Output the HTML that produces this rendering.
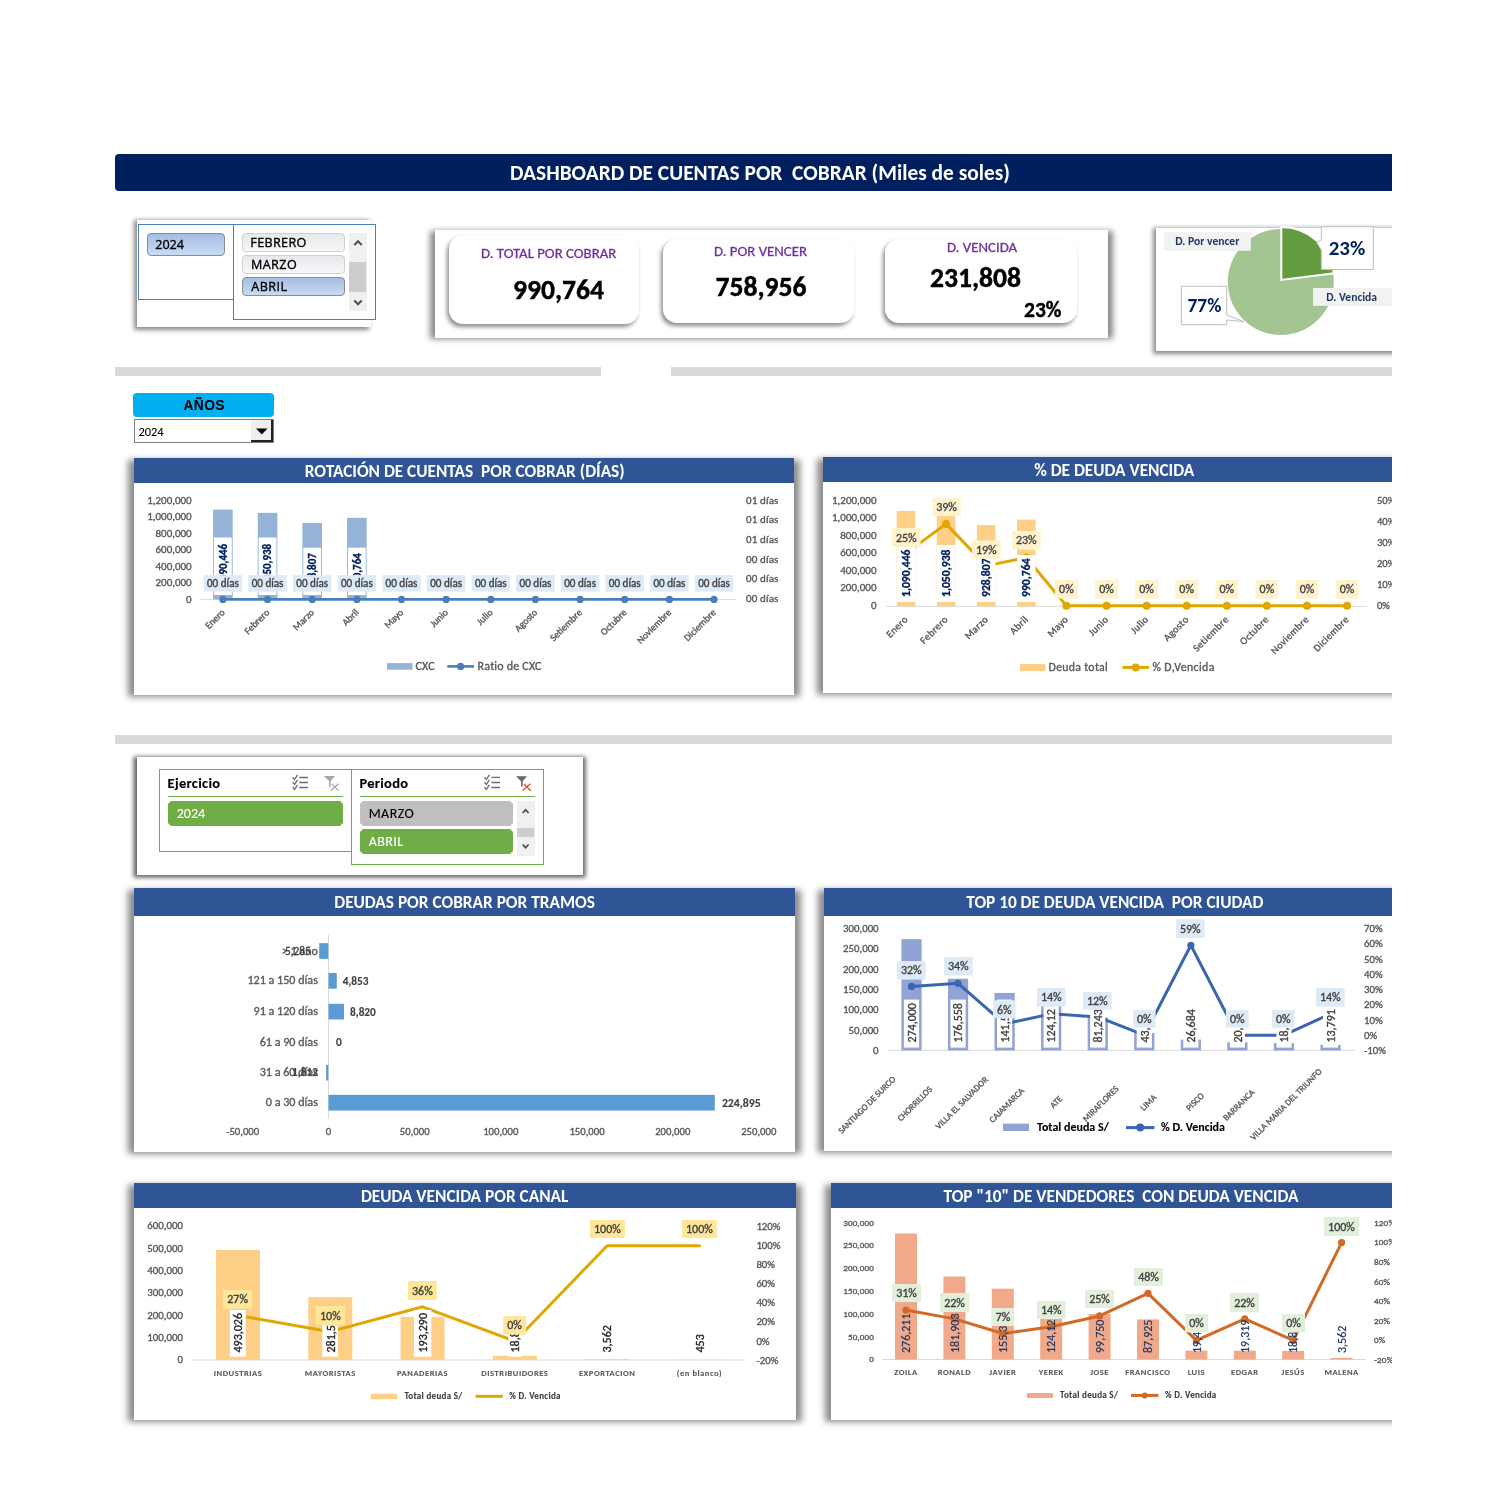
<!DOCTYPE html>
<html><head><meta charset="utf-8">
<style>
*{margin:0;padding:0;box-sizing:border-box}
html,body{width:1500px;height:1500px;background:#fff;overflow:hidden;position:relative;font-family:Carlito,"Liberation Sans",sans-serif}
.a{position:absolute}
.t{position:absolute;white-space:nowrap;line-height:1}
.title{left:115px;top:154px;width:1277px;height:37px;background:#001f5f;border-radius:4px 0 0 4px;color:#fff;font-weight:bold;font-size:21.4px;text-align:center}
.sep{background:#d9d9d9;height:9px}
.sl-btn{position:absolute;border-radius:4px;font-size:13px;padding-left:9px;line-height:18px;color:#000}
.sel{background:linear-gradient(#a4bde2,#c8dbf3);border:1px solid #8c8c8c}
.uns{background:linear-gradient(#e6e8ec,#f7f8f9);border:1px solid #d0d0d0}
.card{position:absolute;background:#fff;border-radius:14px;box-shadow:-2px 3px 4px rgba(0,0,0,.45)}
.lbl{color:#7030a0;font-size:14.8px;-webkit-text-stroke:0.3px #7030a0}
.val{color:#000;font-weight:bold;font-size:27.6px;-webkit-text-stroke:0.4px #000}
.panel{position:absolute;background:#fff}
.ph{position:absolute;left:0;top:0;right:0;height:25px;background:#2f5597;color:#fff;font-weight:bold;font-size:17px;text-align:center;line-height:25px;white-space:nowrap}
svg text{font-family:Carlito,"Liberation Sans",sans-serif}
</style></head><body><div id="clip" style="position:absolute;left:0;top:0;width:1392px;height:1500px;overflow:hidden">


<!-- Title -->
<div class="a title"><div class="t" style="left:13px;right:0;top:9px;text-align:center">DASHBOARD DE CUENTAS POR&nbsp; COBRAR (Miles de soles)</div></div>

<!-- Slicer top-left -->
<div class="a" style="left:137px;top:223px;width:229px;height:104px;box-shadow:0 0 4.6px 2.7px rgba(0,0,0,0.46)"></div><div class="a" style="left:137px;top:220px;width:234px;height:107px;background:#fff"></div>
<div class="a" style="left:138px;top:224px;width:96px;height:76px;border:1px solid #4a7ebb"></div>
<div class="a" style="left:233px;top:224px;width:143px;height:96px;border:1px solid #4a7ebb;background:#fff"></div>
<div class="sl-btn sel" style="left:147px;top:233px;width:78px;height:23px;line-height:21px"></div>
<div class="sl-btn uns" style="left:242px;top:233px;width:103px;height:19px"></div>
<div class="sl-btn uns" style="left:242px;top:255px;width:103px;height:19px"></div>
<div class="sl-btn sel" style="left:242px;top:277px;width:103px;height:19px"></div>
<div class="a" style="left:349px;top:233px;width:18px;height:78px;background:#f0f0f0"></div>
<div class="a" style="left:349px;top:262px;width:17px;height:30px;background:#cdcdcd"></div>
<svg class="a" style="left:349px;top:233px" width="18" height="78"><path d="M5.3 12 L9 8.3 L12.7 12" stroke="#505050" stroke-width="2.1" fill="none"/><path d="M5.3 67.5 L9 71.2 L12.7 67.5" stroke="#505050" stroke-width="2.1" fill="none"/></svg>

<!-- KPI container -->
<div class="a" style="left:435px;top:235.5px;width:673px;height:98px;box-shadow:0 0 6px 5px rgba(0,0,0,0.46)"></div><div class="a" style="left:435px;top:230px;width:673px;height:108px;background:#fff"></div>
<div class="card" style="left:449px;top:235px;width:190px;height:89px"></div>
<div class="card" style="left:663px;top:239px;width:191px;height:84px"></div>
<div class="card" style="left:885px;top:239px;width:192px;height:84px"></div>
<div class="t lbl" style="left:481px;top:246px">D. TOTAL POR COBRAR</div>
<div class="t val" style="left:513px;top:276px">990,764</div>
<div class="t lbl" style="left:714px;top:244px">D. POR VENCER</div>
<div class="t val" style="left:715.5px;top:272.5px">758,956</div>
<div class="t lbl" style="left:947px;top:240px">D. VENCIDA</div>
<div class="t val" style="left:930px;top:264px">231,808</div>
<div class="t val" style="left:1024px;top:299.5px;font-size:21.5px">23%</div>

<!-- Pie container -->
<div class="a" style="left:1156px;top:231px;width:245px;height:120px;box-shadow:0 0 4.6px 2.7px rgba(0,0,0,0.46)"></div><div class="a" style="left:1156px;top:228px;width:250px;height:123px;background:#fff"></div>


<!-- Pie -->
<svg class="a" style="left:1150px;top:220px;overflow:visible" width="250" height="140" viewBox="1150 220 250 140">
<circle cx="1280.8" cy="282" r="53" fill="#a3c592"/>
<path d="M1281.3,279.9 L1281.30,226.90 A53,53 0 0 1 1333.88,273.26 Z" fill="#639b3f" stroke="#fff" stroke-width="2" stroke-linejoin="miter"/>
<rect x="1164" y="232" width="86.8" height="18.8" fill="#f2f2f2"/>
<text x="1175.3" y="245.4" font-size="11.6" font-weight="bold" fill="#1f3864" font-family='Carlito,"Liberation Sans",sans-serif'>D. Por vencer</text>
<rect x="1313" y="288" width="79" height="17.8" fill="#f2f2f2"/>
<text x="1326.3" y="301" font-size="11.6" font-weight="bold" fill="#1f3864" font-family='Carlito,"Liberation Sans",sans-serif'>D. Vencida</text>
<path d="M1321.3,226.7 H1373.3 V269.5 H1321.3 V250 L1316.7,242.5 L1321.3,240 Z" fill="#fff" stroke="#bfbfbf" stroke-width="1"/>
<text x="1328.7" y="255" font-size="21" font-weight="bold" fill="#002060" font-family='Carlito,"Liberation Sans",sans-serif'>23%</text>
<path d="M1181.3,286.3 H1226.7 V315 L1244,321.7 L1226.7,320 V324.7 H1181.3 Z" fill="#fff" stroke="#bfbfbf" stroke-width="1"/>
<text x="1187.5" y="311.7" font-size="19.4" font-weight="bold" fill="#002060" font-family='Carlito,"Liberation Sans",sans-serif'>77%</text>
</svg>

<!-- separators -->
<div class="a sep" style="left:115px;top:367px;width:486px"></div>
<div class="a sep" style="left:671px;top:367px;width:721px"></div>
<div class="a sep" style="left:115px;top:735px;width:1277px"></div>

<!-- AÑOS -->
<div class="a" style="left:133px;top:393px;width:141px;height:24px;background:#00b0f0;border-radius:4px"></div>
<div class="a" style="left:134px;top:419px;width:140px;height:24px;border:1px solid #7f7f7f;background:#fff"></div>
<div class="a" style="left:251px;top:420px;width:22px;height:22px;background:#efefef;border-right:2px solid #222;border-bottom:2px solid #222"></div>
<svg class="a" style="left:251px;top:420px" width="22" height="22"><path d="M5 8.5 L16.5 8.5 L10.75 14.5 Z" fill="#000"/></svg>

<!-- Chart panels -->
<div class="a" style="left:134px;top:465.5px;width:660px;height:225.5px;box-shadow:0 0 6.6px 6.3px rgba(0,0,0,0.46)"></div><div class="panel" style="left:134px;top:458px;width:660px;height:237px"><div class="ph"></div></div>
<div class="a" style="left:823px;top:464.5px;width:600px;height:224.5px;box-shadow:0 0 6.6px 6.3px rgba(0,0,0,0.46)"></div><div class="panel" style="left:823px;top:457px;width:600px;height:236px"><div class="ph" style="width:569px;right:auto"></div></div>



<!-- Slicer 2 -->
<div class="a" style="left:137px;top:760px;width:446px;height:115px;box-shadow:0 0 4.4px 3.2px rgba(0,0,0,0.62)"></div><div class="a" style="left:137px;top:757px;width:446px;height:118px;background:#fff"></div>


<!-- Slicer 2 content -->
<div class="a" style="left:159px;top:769px;width:193px;height:83px;border:1px solid #70ad47"></div>
<div class="a" style="left:351px;top:769px;width:193px;height:96px;border:1px solid #70ad47;background:#fff"></div>
<div class="a" style="left:168px;top:796px;width:175px;height:1px;background:#70ad47"></div>
<div class="a" style="left:360px;top:796px;width:175px;height:1px;background:#70ad47"></div>
<div class="a" style="left:168px;top:801px;width:175px;height:25px;background:#70ad47;clip-path:polygon(3px 0,calc(100% - 3px) 0,100% 3px,100% calc(100% - 3px),calc(100% - 3px) 100%,3px 100%,0 calc(100% - 3px),0 3px)"></div>
<div class="a" style="left:360px;top:801px;width:153px;height:25px;background:#bfbfbf;clip-path:polygon(3px 0,calc(100% - 3px) 0,100% 3px,100% calc(100% - 3px),calc(100% - 3px) 100%,3px 100%,0 calc(100% - 3px),0 3px)"></div>
<div class="a" style="left:360px;top:829px;width:153px;height:25px;background:#70ad47;clip-path:polygon(3px 0,calc(100% - 3px) 0,100% 3px,100% calc(100% - 3px),calc(100% - 3px) 100%,3px 100%,0 calc(100% - 3px),0 3px)"></div>
<div class="a" style="left:517px;top:801px;width:18px;height:55px;background:#f0f0f0"></div>
<div class="a" style="left:517px;top:828px;width:17px;height:9px;background:#cdcdcd"></div>
<svg class="a" style="left:280px;top:765px;overflow:visible" width="270" height="100" viewBox="280 765 270 100">
<g stroke="#6d6d6d" stroke-width="1.3" fill="none">
<path d="M292.6,777.2 l2,2.2 l3,-4.6 M292.6,782.2 l2,2.2 l3,-4.6 M292.6,787.2 l2,2.2 l3,-4.6"/>
<path d="M299.2,777.5 h8.7 M299.2,782.5 h8.7 M299.2,787.5 h8.7"/>
<path d="M484.4,777.2 l2,2.2 l3,-4.6 M484.4,782.2 l2,2.2 l3,-4.6 M484.4,787.2 l2,2.2 l3,-4.6"/>
<path d="M491.3,777.3 h8.7 M491.3,782.5 h8.7 M491.3,787.5 h8.7"/>
</g>
<path d="M323.9,776.1 h11.1 l-4.4,5 v5.6 h-1.6 v-5.6 Z" fill="#a6a6a6"/>
<path d="M331,790.5 l7.5,-6.8 M332,783.8 l6.5,6.8" stroke="#a6a6a6" stroke-width="1.2"/>
<path d="M516,776.3 h11 l-4.3,5 v5.3 h-1.6 v-5.3 Z" fill="#666"/>
<path d="M522.5,790.5 l8,-6.8 M524,784 l6.8,6.8" stroke="#d9542c" stroke-width="1.4"/>
<path d="M522.6,813 l3,-3.2 l3,3.2" stroke="#505050" stroke-width="1.8" fill="none"/>
<path d="M522.6,844.5 l3,3.2 l3,-3.2" stroke="#505050" stroke-width="1.8" fill="none"/>
</svg>

<!-- lower panels -->
<div class="a" style="left:134px;top:895.5px;width:661px;height:252.5px;box-shadow:0 0 6.6px 6.3px rgba(0,0,0,0.46)"></div><div class="panel" style="left:134px;top:888px;width:661px;height:264px"><div class="ph" style="height:28px;line-height:28px"></div></div>
<div class="a" style="left:824px;top:895.5px;width:600px;height:251.5px;box-shadow:0 0 6.6px 6.3px rgba(0,0,0,0.46)"></div><div class="panel" style="left:824px;top:888px;width:600px;height:263px"><div class="ph" style="height:28px;line-height:28px;width:581px;right:auto"></div></div>
<div class="a" style="left:134px;top:1190.5px;width:662px;height:225.5px;box-shadow:0 0 6.6px 6.3px rgba(0,0,0,0.46)"></div><div class="panel" style="left:134px;top:1183px;width:662px;height:237px"><div class="ph"></div></div>
<div class="a" style="left:831px;top:1190.5px;width:600px;height:225.5px;box-shadow:0 0 6.6px 6.3px rgba(0,0,0,0.46)"></div><div class="panel" style="left:831px;top:1183px;width:600px;height:237px"><div class="ph" style="width:580px;right:auto"></div></div>
<svg class="a" style="left:0;top:0" width="1392" height="1500" font-family='Carlito,"Liberation Sans",sans-serif'>
<text x="155.2" y="249" font-size="12.6" fill="#000" stroke="#000" stroke-width="0.35" style='font-family:"Open Sans","Liberation Sans",sans-serif'>2024</text>
<text x="250.3" y="246.8" font-size="12.6" fill="#000" stroke="#000" stroke-width="0.35" style='font-family:"Open Sans","Liberation Sans",sans-serif' letter-spacing="0.35">FEBRERO</text>
<text x="250.9" y="268.9" font-size="12.6" fill="#000" stroke="#000" stroke-width="0.35" style='font-family:"Open Sans","Liberation Sans",sans-serif' letter-spacing="0.45">MARZO</text>
<text x="251.3" y="291" font-size="12.6" fill="#000" stroke="#000" stroke-width="0.35" style='font-family:"Open Sans","Liberation Sans",sans-serif' letter-spacing="0.45">ABRIL</text>
<text x="204.2" y="409.8" font-size="13.8" fill="#000" text-anchor="middle" font-weight="bold" stroke="#000" stroke-width="0.12" style='font-family:"Liberation Sans",Arimo,Arial,sans-serif' letter-spacing="0.4">AÑOS</text>
<text x="138.4" y="436" font-size="12.4" fill="#000" stroke="#000" stroke-width="0.1">2024</text>
<text x="167.6" y="787.9" font-size="14.5" fill="#000" font-weight="bold" stroke="#000" stroke-width="0.12" letter-spacing="0.3">Ejercicio</text>
<text x="359.4" y="787.9" font-size="14.5" fill="#000" font-weight="bold" stroke="#000" stroke-width="0.12" letter-spacing="0.3">Periodo</text>
<text x="176.7" y="817.9" font-size="14" fill="#fff" stroke="#fff" stroke-width="0.1">2024</text>
<text x="368.7" y="817.9" font-size="14" fill="#000" stroke="#000" stroke-width="0.15" letter-spacing="0.45">MARZO</text>
<text x="368.7" y="845.9" font-size="14" fill="#fff" stroke="#fff" stroke-width="0.1" letter-spacing="0.45">ABRIL</text>
<text x="464.75" y="477.4" font-size="17.3" font-weight="bold" fill="#fff" text-anchor="middle">ROTACIÓN DE CUENTAS  POR COBRAR (DÍAS)</text>
<text x="1114.2" y="476.2" font-size="17.3" font-weight="bold" fill="#fff" text-anchor="middle">% DE DEUDA VENCIDA</text>
<text x="464.6" y="907.6" font-size="17.3" font-weight="bold" fill="#fff" text-anchor="middle">DEUDAS POR COBRAR POR TRAMOS</text>
<text x="1114.8" y="907.6" font-size="17.3" font-weight="bold" fill="#fff" text-anchor="middle">TOP 10 DE DEUDA VENCIDA  POR CIUDAD</text>
<text x="464.6" y="1201.9" font-size="17.3" font-weight="bold" fill="#fff" text-anchor="middle">DEUDA VENCIDA POR CANAL</text>
<text x="1121" y="1201.8" font-size="17.3" font-weight="bold" fill="#fff" text-anchor="middle">TOP &quot;10&quot; DE VENDEDORES  CON DEUDA VENCIDA</text>
<text x="191.7" y="602.8" font-size="11" fill="#595959" text-anchor="end" stroke="#595959" stroke-width="0.35">0</text>
<text x="191.7" y="586.33" font-size="11" fill="#595959" text-anchor="end" stroke="#595959" stroke-width="0.35">200,000</text>
<text x="191.7" y="569.87" font-size="11" fill="#595959" text-anchor="end" stroke="#595959" stroke-width="0.35">400,000</text>
<text x="191.7" y="553.4" font-size="11" fill="#595959" text-anchor="end" stroke="#595959" stroke-width="0.35">600,000</text>
<text x="191.7" y="536.93" font-size="11" fill="#595959" text-anchor="end" stroke="#595959" stroke-width="0.35">800,000</text>
<text x="191.7" y="520.47" font-size="11" fill="#595959" text-anchor="end" stroke="#595959" stroke-width="0.35">1,000,000</text>
<text x="191.7" y="504" font-size="11" fill="#595959" text-anchor="end" stroke="#595959" stroke-width="0.35">1,200,000</text>
<line x1="200.6" y1="599.4" x2="736.4" y2="599.4" stroke="#d9d9d9" stroke-width="1"/>
<rect x="213.1" y="509.62" width="19.6" height="89.78" fill="#95b3d7"/>
<rect x="257.75" y="512.87" width="19.6" height="86.53" fill="#95b3d7"/>
<rect x="302.4" y="522.93" width="19.6" height="76.47" fill="#95b3d7"/>
<rect x="347.05" y="517.83" width="19.6" height="81.57" fill="#95b3d7"/>
<rect x="214" y="537.5" width="17.8" height="57.5" fill="#fff"/>
<text transform="translate(226.8 566.25) rotate(-90)" font-size="11" fill="#002060" text-anchor="middle" font-weight="bold" stroke="#002060" stroke-width="0.35">1,090,446</text>
<rect x="258.65" y="537.5" width="17.8" height="57.5" fill="#fff"/>
<text transform="translate(271.45 566.25) rotate(-90)" font-size="11" fill="#002060" text-anchor="middle" font-weight="bold" stroke="#002060" stroke-width="0.35">1,050,938</text>
<rect x="303.3" y="547.7" width="17.8" height="47.3" fill="#fff"/>
<text transform="translate(316.1 571.35) rotate(-90)" font-size="11" fill="#002060" text-anchor="middle" font-weight="bold" stroke="#002060" stroke-width="0.35">928,807</text>
<rect x="347.95" y="547.7" width="17.8" height="47.3" fill="#fff"/>
<text transform="translate(360.75 571.35) rotate(-90)" font-size="11" fill="#002060" text-anchor="middle" font-weight="bold" stroke="#002060" stroke-width="0.35">990,764</text>
<polyline points="222.9,599.4 714.05,599.4" fill="none" stroke="#4a7ebb" stroke-width="2.6" stroke-linejoin="round" stroke-linecap="round"/>
<circle cx="222.9" cy="599.4" r="3.6" fill="#4a7ebb"/>
<circle cx="267.55" cy="599.4" r="3.6" fill="#4a7ebb"/>
<circle cx="312.2" cy="599.4" r="3.6" fill="#4a7ebb"/>
<circle cx="356.85" cy="599.4" r="3.6" fill="#4a7ebb"/>
<circle cx="401.5" cy="599.4" r="3.6" fill="#4a7ebb"/>
<circle cx="446.15" cy="599.4" r="3.6" fill="#4a7ebb"/>
<circle cx="490.8" cy="599.4" r="3.6" fill="#4a7ebb"/>
<circle cx="535.45" cy="599.4" r="3.6" fill="#4a7ebb"/>
<circle cx="580.1" cy="599.4" r="3.6" fill="#4a7ebb"/>
<circle cx="624.75" cy="599.4" r="3.6" fill="#4a7ebb"/>
<circle cx="669.4" cy="599.4" r="3.6" fill="#4a7ebb"/>
<circle cx="714.05" cy="599.4" r="3.6" fill="#4a7ebb"/>
<rect x="203.7" y="575.1" width="38.4" height="16.5" fill="#deeaf6"/>
<text x="222.9" y="587.1" font-size="11.1" fill="#404040" text-anchor="middle" stroke="#404040" stroke-width="0.35">00 días</text>
<rect x="248.35" y="575.1" width="38.4" height="16.5" fill="#deeaf6"/>
<text x="267.55" y="587.1" font-size="11.1" fill="#404040" text-anchor="middle" stroke="#404040" stroke-width="0.35">00 días</text>
<rect x="293" y="575.1" width="38.4" height="16.5" fill="#deeaf6"/>
<text x="312.2" y="587.1" font-size="11.1" fill="#404040" text-anchor="middle" stroke="#404040" stroke-width="0.35">00 días</text>
<rect x="337.65" y="575.1" width="38.4" height="16.5" fill="#deeaf6"/>
<text x="356.85" y="587.1" font-size="11.1" fill="#404040" text-anchor="middle" stroke="#404040" stroke-width="0.35">00 días</text>
<rect x="382.3" y="575.1" width="38.4" height="16.5" fill="#deeaf6"/>
<text x="401.5" y="587.1" font-size="11.1" fill="#404040" text-anchor="middle" stroke="#404040" stroke-width="0.35">00 días</text>
<rect x="426.95" y="575.1" width="38.4" height="16.5" fill="#deeaf6"/>
<text x="446.15" y="587.1" font-size="11.1" fill="#404040" text-anchor="middle" stroke="#404040" stroke-width="0.35">00 días</text>
<rect x="471.6" y="575.1" width="38.4" height="16.5" fill="#deeaf6"/>
<text x="490.8" y="587.1" font-size="11.1" fill="#404040" text-anchor="middle" stroke="#404040" stroke-width="0.35">00 días</text>
<rect x="516.25" y="575.1" width="38.4" height="16.5" fill="#deeaf6"/>
<text x="535.45" y="587.1" font-size="11.1" fill="#404040" text-anchor="middle" stroke="#404040" stroke-width="0.35">00 días</text>
<rect x="560.9" y="575.1" width="38.4" height="16.5" fill="#deeaf6"/>
<text x="580.1" y="587.1" font-size="11.1" fill="#404040" text-anchor="middle" stroke="#404040" stroke-width="0.35">00 días</text>
<rect x="605.55" y="575.1" width="38.4" height="16.5" fill="#deeaf6"/>
<text x="624.75" y="587.1" font-size="11.1" fill="#404040" text-anchor="middle" stroke="#404040" stroke-width="0.35">00 días</text>
<rect x="650.2" y="575.1" width="38.4" height="16.5" fill="#deeaf6"/>
<text x="669.4" y="587.1" font-size="11.1" fill="#404040" text-anchor="middle" stroke="#404040" stroke-width="0.35">00 días</text>
<rect x="694.85" y="575.1" width="38.4" height="16.5" fill="#deeaf6"/>
<text x="714.05" y="587.1" font-size="11.1" fill="#404040" text-anchor="middle" stroke="#404040" stroke-width="0.35">00 días</text>
<text x="746" y="504.1" font-size="11" fill="#595959" stroke="#595959" stroke-width="0.35" letter-spacing="0.15">01 días</text>
<text x="746" y="523.3" font-size="11" fill="#595959" stroke="#595959" stroke-width="0.35" letter-spacing="0.15">01 días</text>
<text x="746" y="543.2" font-size="11" fill="#595959" stroke="#595959" stroke-width="0.35" letter-spacing="0.15">01 días</text>
<text x="746" y="563.1" font-size="11" fill="#595959" stroke="#595959" stroke-width="0.35" letter-spacing="0.15">00 días</text>
<text x="746" y="582.3" font-size="11" fill="#595959" stroke="#595959" stroke-width="0.35" letter-spacing="0.15">00 días</text>
<text x="746" y="602" font-size="11" fill="#595959" stroke="#595959" stroke-width="0.35" letter-spacing="0.15">00 días</text>
<text transform="translate(225.4 613) rotate(-45)" font-size="9.8" fill="#595959" text-anchor="end" stroke="#595959" stroke-width="0.35">Enero</text>
<text transform="translate(270.05 613) rotate(-45)" font-size="9.8" fill="#595959" text-anchor="end" stroke="#595959" stroke-width="0.35">Febrero</text>
<text transform="translate(314.7 613) rotate(-45)" font-size="9.8" fill="#595959" text-anchor="end" stroke="#595959" stroke-width="0.35">Marzo</text>
<text transform="translate(359.35 613) rotate(-45)" font-size="9.8" fill="#595959" text-anchor="end" stroke="#595959" stroke-width="0.35">Abril</text>
<text transform="translate(404 613) rotate(-45)" font-size="9.8" fill="#595959" text-anchor="end" stroke="#595959" stroke-width="0.35">Mayo</text>
<text transform="translate(448.65 613) rotate(-45)" font-size="9.8" fill="#595959" text-anchor="end" stroke="#595959" stroke-width="0.35">Junio</text>
<text transform="translate(493.3 613) rotate(-45)" font-size="9.8" fill="#595959" text-anchor="end" stroke="#595959" stroke-width="0.35">Julio</text>
<text transform="translate(537.95 613) rotate(-45)" font-size="9.8" fill="#595959" text-anchor="end" stroke="#595959" stroke-width="0.35">Agosto</text>
<text transform="translate(582.6 613) rotate(-45)" font-size="9.8" fill="#595959" text-anchor="end" stroke="#595959" stroke-width="0.35">Setiembre</text>
<text transform="translate(627.25 613) rotate(-45)" font-size="9.8" fill="#595959" text-anchor="end" stroke="#595959" stroke-width="0.35">Octubre</text>
<text transform="translate(671.9 613) rotate(-45)" font-size="9.8" fill="#595959" text-anchor="end" stroke="#595959" stroke-width="0.35">Noviembre</text>
<text transform="translate(716.55 613) rotate(-45)" font-size="9.8" fill="#595959" text-anchor="end" stroke="#595959" stroke-width="0.35">Diciembre</text>
<rect x="387" y="663.1" width="25.5" height="6.6" fill="#95b3d7"/>
<text x="415.5" y="670" font-size="12" fill="#595959" stroke="#595959" stroke-width="0.35" letter-spacing="0.2">CXC</text>
<line x1="447.3" y1="666.4" x2="474" y2="666.4" stroke="#4a7ebb" stroke-width="2.6"/>
<circle cx="460.6" cy="666.4" r="3.6" fill="#4a7ebb"/>
<text x="477.6" y="670" font-size="12" fill="#595959" stroke="#595959" stroke-width="0.35" letter-spacing="0.2">Ratio de CXC</text>
<text x="876.5" y="608.9" font-size="11" fill="#595959" text-anchor="end" stroke="#595959" stroke-width="0.35">0</text>
<text x="876.5" y="591.4" font-size="11" fill="#595959" text-anchor="end" stroke="#595959" stroke-width="0.35">200,000</text>
<text x="876.5" y="573.9" font-size="11" fill="#595959" text-anchor="end" stroke="#595959" stroke-width="0.35">400,000</text>
<text x="876.5" y="556.4" font-size="11" fill="#595959" text-anchor="end" stroke="#595959" stroke-width="0.35">600,000</text>
<text x="876.5" y="538.9" font-size="11" fill="#595959" text-anchor="end" stroke="#595959" stroke-width="0.35">800,000</text>
<text x="876.5" y="521.4" font-size="11" fill="#595959" text-anchor="end" stroke="#595959" stroke-width="0.35">1,000,000</text>
<text x="876.5" y="503.9" font-size="11" fill="#595959" text-anchor="end" stroke="#595959" stroke-width="0.35">1,200,000</text>
<line x1="886" y1="606.3" x2="1367" y2="606.3" stroke="#d9d9d9" stroke-width="1"/>
<rect x="896.7" y="510.89" width="18.6" height="95.41" fill="#fdcf87"/>
<rect x="936.8" y="514.34" width="18.6" height="91.96" fill="#fdcf87"/>
<rect x="976.9" y="525.03" width="18.6" height="81.27" fill="#fdcf87"/>
<rect x="1017" y="519.61" width="18.6" height="86.69" fill="#fdcf87"/>
<polyline points="906,553.3 946.1,523.9 986.2,565.9 1026.3,557.5 1066.4,605.8 1106.5,605.8 1146.6,605.8 1186.7,605.8 1226.8,605.8 1266.9,605.8 1307,605.8 1347.1,605.8" fill="none" stroke="#dfa700" stroke-width="3" stroke-linejoin="round" stroke-linecap="round"/>
<circle cx="906" cy="553.3" r="4" fill="#dfa700"/>
<circle cx="946.1" cy="523.9" r="4" fill="#dfa700"/>
<circle cx="986.2" cy="565.9" r="4" fill="#dfa700"/>
<circle cx="1026.3" cy="557.5" r="4" fill="#dfa700"/>
<circle cx="1066.4" cy="605.8" r="4" fill="#dfa700"/>
<circle cx="1106.5" cy="605.8" r="4" fill="#dfa700"/>
<circle cx="1146.6" cy="605.8" r="4" fill="#dfa700"/>
<circle cx="1186.7" cy="605.8" r="4" fill="#dfa700"/>
<circle cx="1226.8" cy="605.8" r="4" fill="#dfa700"/>
<circle cx="1266.9" cy="605.8" r="4" fill="#dfa700"/>
<circle cx="1307" cy="605.8" r="4" fill="#dfa700"/>
<circle cx="1347.1" cy="605.8" r="4" fill="#dfa700"/>
<rect x="896.7" y="545" width="18.6" height="57" fill="#fff"/>
<text transform="translate(910.1 597) rotate(-90)" font-size="11.7" fill="#002060" font-weight="bold" stroke="#002060" stroke-width="0.3">1,090,446</text>
<rect x="936.8" y="545" width="18.6" height="57" fill="#fff"/>
<text transform="translate(950.2 597) rotate(-90)" font-size="11.7" fill="#002060" font-weight="bold" stroke="#002060" stroke-width="0.3">1,050,938</text>
<rect x="976.9" y="558" width="18.6" height="44" fill="#fff"/>
<text transform="translate(990.3 597) rotate(-90)" font-size="11.7" fill="#002060" font-weight="bold" stroke="#002060" stroke-width="0.3">928,807</text>
<rect x="1017" y="555" width="18.6" height="47" fill="#fff"/>
<text transform="translate(1030.4 597) rotate(-90)" font-size="11.7" fill="#002060" font-weight="bold" stroke="#002060" stroke-width="0.3">990,764</text>
<rect x="892" y="528" width="28.6" height="19" fill="#fff2cc"/>
<text x="906.3" y="541.5" font-size="12" fill="#404040" text-anchor="middle" stroke="#404040" stroke-width="0.35">25%</text>
<rect x="932.4" y="498" width="28.2" height="18" fill="#fff2cc"/>
<text x="946.5" y="511" font-size="12" fill="#404040" text-anchor="middle" stroke="#404040" stroke-width="0.35">39%</text>
<rect x="972" y="540.4" width="28.6" height="18.2" fill="#fff2cc"/>
<text x="986.3" y="553.5" font-size="12" fill="#404040" text-anchor="middle" stroke="#404040" stroke-width="0.35">19%</text>
<rect x="1012" y="531" width="28.6" height="18.6" fill="#fff2cc"/>
<text x="1026.3" y="544.3" font-size="12" fill="#404040" text-anchor="middle" stroke="#404040" stroke-width="0.35">23%</text>
<rect x="1055.1" y="580" width="22.6" height="18.6" fill="#fff2cc"/>
<text x="1066.4" y="593.3" font-size="12" fill="#404040" text-anchor="middle" stroke="#404040" stroke-width="0.35">0%</text>
<rect x="1095.2" y="580" width="22.6" height="18.6" fill="#fff2cc"/>
<text x="1106.5" y="593.3" font-size="12" fill="#404040" text-anchor="middle" stroke="#404040" stroke-width="0.35">0%</text>
<rect x="1135.3" y="580" width="22.6" height="18.6" fill="#fff2cc"/>
<text x="1146.6" y="593.3" font-size="12" fill="#404040" text-anchor="middle" stroke="#404040" stroke-width="0.35">0%</text>
<rect x="1175.4" y="580" width="22.6" height="18.6" fill="#fff2cc"/>
<text x="1186.7" y="593.3" font-size="12" fill="#404040" text-anchor="middle" stroke="#404040" stroke-width="0.35">0%</text>
<rect x="1215.5" y="580" width="22.6" height="18.6" fill="#fff2cc"/>
<text x="1226.8" y="593.3" font-size="12" fill="#404040" text-anchor="middle" stroke="#404040" stroke-width="0.35">0%</text>
<rect x="1255.6" y="580" width="22.6" height="18.6" fill="#fff2cc"/>
<text x="1266.9" y="593.3" font-size="12" fill="#404040" text-anchor="middle" stroke="#404040" stroke-width="0.35">0%</text>
<rect x="1295.7" y="580" width="22.6" height="18.6" fill="#fff2cc"/>
<text x="1307" y="593.3" font-size="12" fill="#404040" text-anchor="middle" stroke="#404040" stroke-width="0.35">0%</text>
<rect x="1335.8" y="580" width="22.6" height="18.6" fill="#fff2cc"/>
<text x="1347.1" y="593.3" font-size="12" fill="#404040" text-anchor="middle" stroke="#404040" stroke-width="0.35">0%</text>
<text x="1377" y="504" font-size="10.6" fill="#595959" stroke="#595959" stroke-width="0.35">50%</text>
<text x="1377" y="525" font-size="10.6" fill="#595959" stroke="#595959" stroke-width="0.35">40%</text>
<text x="1377" y="546" font-size="10.6" fill="#595959" stroke="#595959" stroke-width="0.35">30%</text>
<text x="1377" y="567" font-size="10.6" fill="#595959" stroke="#595959" stroke-width="0.35">20%</text>
<text x="1377" y="587.8" font-size="10.6" fill="#595959" stroke="#595959" stroke-width="0.35">10%</text>
<text x="1377" y="609" font-size="10.6" fill="#595959" stroke="#595959" stroke-width="0.35">0%</text>
<text transform="translate(908.5 620) rotate(-45)" font-size="10.2" fill="#595959" text-anchor="end" stroke="#595959" stroke-width="0.35" letter-spacing="0.35">Enero</text>
<text transform="translate(948.6 620) rotate(-45)" font-size="10.2" fill="#595959" text-anchor="end" stroke="#595959" stroke-width="0.35" letter-spacing="0.35">Febrero</text>
<text transform="translate(988.7 620) rotate(-45)" font-size="10.2" fill="#595959" text-anchor="end" stroke="#595959" stroke-width="0.35" letter-spacing="0.35">Marzo</text>
<text transform="translate(1028.8 620) rotate(-45)" font-size="10.2" fill="#595959" text-anchor="end" stroke="#595959" stroke-width="0.35" letter-spacing="0.35">Abril</text>
<text transform="translate(1068.9 620) rotate(-45)" font-size="10.2" fill="#595959" text-anchor="end" stroke="#595959" stroke-width="0.35" letter-spacing="0.35">Mayo</text>
<text transform="translate(1109 620) rotate(-45)" font-size="10.2" fill="#595959" text-anchor="end" stroke="#595959" stroke-width="0.35" letter-spacing="0.35">Junio</text>
<text transform="translate(1149.1 620) rotate(-45)" font-size="10.2" fill="#595959" text-anchor="end" stroke="#595959" stroke-width="0.35" letter-spacing="0.35">Julio</text>
<text transform="translate(1189.2 620) rotate(-45)" font-size="10.2" fill="#595959" text-anchor="end" stroke="#595959" stroke-width="0.35" letter-spacing="0.35">Agosto</text>
<text transform="translate(1229.3 620) rotate(-45)" font-size="10.2" fill="#595959" text-anchor="end" stroke="#595959" stroke-width="0.35" letter-spacing="0.35">Setiembre</text>
<text transform="translate(1269.4 620) rotate(-45)" font-size="10.2" fill="#595959" text-anchor="end" stroke="#595959" stroke-width="0.35" letter-spacing="0.35">Octubre</text>
<text transform="translate(1309.5 620) rotate(-45)" font-size="10.2" fill="#595959" text-anchor="end" stroke="#595959" stroke-width="0.35" letter-spacing="0.35">Noviembre</text>
<text transform="translate(1349.6 620) rotate(-45)" font-size="10.2" fill="#595959" text-anchor="end" stroke="#595959" stroke-width="0.35" letter-spacing="0.35">Diciembre</text>
<rect x="1020" y="664" width="25.6" height="7" fill="#fdcf87"/>
<text x="1048.6" y="671.4" font-size="11.8" fill="#595959" stroke="#595959" stroke-width="0.35" letter-spacing="0.3">Deuda total</text>
<line x1="1122.4" y1="667.4" x2="1149" y2="667.4" stroke="#dfa700" stroke-width="3"/>
<circle cx="1135.7" cy="667.4" r="4" fill="#dfa700"/>
<text x="1152.4" y="671.4" font-size="11.8" fill="#595959" stroke="#595959" stroke-width="0.35" letter-spacing="0.4">% D,Vencida</text>
<line x1="328.5" y1="934.7" x2="328.5" y2="1118.7" stroke="#d9d9d9" stroke-width="1"/>
<text x="242.7" y="1134.9" font-size="10.7" fill="#595959" text-anchor="middle" stroke="#595959" stroke-width="0.35">-50,000</text>
<text x="328.5" y="1134.9" font-size="10.7" fill="#595959" text-anchor="middle" stroke="#595959" stroke-width="0.35">0</text>
<text x="414.7" y="1134.9" font-size="10.7" fill="#595959" text-anchor="middle" stroke="#595959" stroke-width="0.35">50,000</text>
<text x="500.8" y="1134.9" font-size="10.7" fill="#595959" text-anchor="middle" stroke="#595959" stroke-width="0.35">100,000</text>
<text x="587" y="1134.9" font-size="10.7" fill="#595959" text-anchor="middle" stroke="#595959" stroke-width="0.35">150,000</text>
<text x="672.8" y="1134.9" font-size="10.7" fill="#595959" text-anchor="middle" stroke="#595959" stroke-width="0.35">200,000</text>
<text x="758.8" y="1134.9" font-size="10.7" fill="#595959" text-anchor="middle" stroke="#595959" stroke-width="0.35">250,000</text>
<rect x="319.2" y="943.15" width="9.1" height="15.7" fill="#5b9bd5"/>
<rect x="328.5" y="972.95" width="8.3" height="15.7" fill="#5b9bd5"/>
<rect x="328.5" y="1003.75" width="15.5" height="15.7" fill="#5b9bd5"/>
<rect x="326.1" y="1064.85" width="2.2" height="15.7" fill="#5b9bd5"/>
<rect x="328.5" y="1094.85" width="386.3" height="15.7" fill="#5b9bd5"/>
<text x="317.9" y="954.6" font-size="12.1" fill="#595959" text-anchor="end" stroke="#595959" stroke-width="0.35">&gt; 1 año</text>
<text x="317.9" y="984.4" font-size="12.1" fill="#595959" text-anchor="end" stroke="#595959" stroke-width="0.35">121 a 150 días</text>
<text x="317.9" y="1015.2" font-size="12.1" fill="#595959" text-anchor="end" stroke="#595959" stroke-width="0.35">91 a 120 días</text>
<text x="317.9" y="1045.6" font-size="12.1" fill="#595959" text-anchor="end" stroke="#595959" stroke-width="0.35">61 a 90 días</text>
<text x="317.9" y="1076.3" font-size="12.1" fill="#595959" text-anchor="end" stroke="#595959" stroke-width="0.35">31 a 60 días</text>
<text x="317.9" y="1106.3" font-size="12.1" fill="#595959" text-anchor="end" stroke="#595959" stroke-width="0.35">0 a 30 días</text>
<text x="285" y="954.6" font-size="11.3" fill="#404040" stroke="#404040" stroke-width="0.35">5,285</text>
<text x="342.7" y="984.8" font-size="11.3" fill="#404040" font-weight="bold" stroke="#404040" stroke-width="0.12">4,853</text>
<text x="350" y="1015.6" font-size="11.3" fill="#404040" font-weight="bold" stroke="#404040" stroke-width="0.12">8,820</text>
<text x="336" y="1046" font-size="11.3" fill="#404040" font-weight="bold" stroke="#404040" stroke-width="0.12">0</text>
<text x="317.9" y="1076.3" font-size="11.3" fill="#404040" text-anchor="end" font-weight="bold" stroke="#404040" stroke-width="0.12">1,812</text>
<text x="721.9" y="1106.7" font-size="11.8" fill="#404040" font-weight="bold" stroke="#404040" stroke-width="0.12">224,895</text>
<text x="878.6" y="1053.8" font-size="10.8" fill="#595959" text-anchor="end" stroke="#595959" stroke-width="0.35">0</text>
<text x="878.6" y="1033.5" font-size="10.8" fill="#595959" text-anchor="end" stroke="#595959" stroke-width="0.35">50,000</text>
<text x="878.6" y="1013.2" font-size="10.8" fill="#595959" text-anchor="end" stroke="#595959" stroke-width="0.35">100,000</text>
<text x="878.6" y="992.9" font-size="10.8" fill="#595959" text-anchor="end" stroke="#595959" stroke-width="0.35">150,000</text>
<text x="878.6" y="972.6" font-size="10.8" fill="#595959" text-anchor="end" stroke="#595959" stroke-width="0.35">200,000</text>
<text x="878.6" y="952.3" font-size="10.8" fill="#595959" text-anchor="end" stroke="#595959" stroke-width="0.35">250,000</text>
<text x="878.6" y="932" font-size="10.8" fill="#595959" text-anchor="end" stroke="#595959" stroke-width="0.35">300,000</text>
<line x1="888" y1="1050.4" x2="1354" y2="1050.4" stroke="#d9d9d9" stroke-width="1"/>
<rect x="901.4" y="939.16" width="20.2" height="111.24" fill="#91a3d5"/>
<rect x="947.96" y="978.72" width="20.2" height="71.68" fill="#91a3d5"/>
<rect x="994.52" y="992.95" width="20.2" height="57.45" fill="#91a3d5"/>
<rect x="1041.08" y="1000.01" width="20.2" height="50.39" fill="#91a3d5"/>
<rect x="1087.64" y="1017.42" width="20.2" height="32.98" fill="#91a3d5"/>
<rect x="1134.2" y="1032.94" width="20.2" height="17.46" fill="#91a3d5"/>
<rect x="1180.76" y="1039.57" width="20.2" height="10.83" fill="#91a3d5"/>
<rect x="1227.32" y="1042.28" width="20.2" height="8.12" fill="#91a3d5"/>
<rect x="1273.88" y="1043.09" width="20.2" height="7.31" fill="#91a3d5"/>
<rect x="1320.44" y="1044.8" width="20.2" height="5.6" fill="#91a3d5"/>
<polyline points="911.5,986.4 958.06,983.35 1004.62,1024 1051.18,1013.85 1097.74,1016.9 1144.3,1035.2 1190.86,945.23 1237.42,1035.2 1283.98,1035.2 1330.54,1013.85" fill="none" stroke="#3a65b1" stroke-width="3" stroke-linejoin="round" stroke-linecap="round"/>
<circle cx="911.5" cy="986.4" r="3.6" fill="#3a65b1"/>
<circle cx="958.06" cy="983.35" r="3.6" fill="#3a65b1"/>
<circle cx="1004.62" cy="1024" r="3.6" fill="#3a65b1"/>
<circle cx="1051.18" cy="1013.85" r="3.6" fill="#3a65b1"/>
<circle cx="1097.74" cy="1016.9" r="3.6" fill="#3a65b1"/>
<circle cx="1144.3" cy="1035.2" r="3.6" fill="#3a65b1"/>
<circle cx="1190.86" cy="945.23" r="3.6" fill="#3a65b1"/>
<circle cx="1237.42" cy="1035.2" r="3.6" fill="#3a65b1"/>
<circle cx="1283.98" cy="1035.2" r="3.6" fill="#3a65b1"/>
<circle cx="1330.54" cy="1013.85" r="3.6" fill="#3a65b1"/>
<rect x="903.9" y="999.6" width="15.2" height="48" fill="#fff"/>
<rect x="950.46" y="999.6" width="15.2" height="48" fill="#fff"/>
<rect x="997.02" y="999.6" width="15.2" height="48" fill="#fff"/>
<rect x="1043.58" y="999.6" width="15.2" height="48" fill="#fff"/>
<rect x="1090.14" y="1000" width="15.2" height="47.6" fill="#fff"/>
<rect x="1136.7" y="1000" width="15.2" height="47.6" fill="#fff"/>
<rect x="1183.26" y="1000" width="15.2" height="47.6" fill="#fff"/>
<rect x="1229.82" y="1000" width="15.2" height="47.6" fill="#fff"/>
<rect x="1276.38" y="1000" width="15.2" height="47.6" fill="#fff"/>
<rect x="1322.94" y="1000" width="15.2" height="47.6" fill="#fff"/>
<text transform="translate(915.7 1042.6) rotate(-90)" font-size="12" fill="#404040" stroke="#404040" stroke-width="0.35">274,000</text>
<text transform="translate(962.26 1042.6) rotate(-90)" font-size="12" fill="#404040" stroke="#404040" stroke-width="0.35">176,558</text>
<text transform="translate(1008.82 1042.6) rotate(-90)" font-size="12" fill="#404040" stroke="#404040" stroke-width="0.35">141,5</text>
<text transform="translate(1055.38 1042.6) rotate(-90)" font-size="12" fill="#404040" stroke="#404040" stroke-width="0.35">124,12</text>
<text transform="translate(1101.94 1042.6) rotate(-90)" font-size="12" fill="#404040" stroke="#404040" stroke-width="0.35">81,243</text>
<text transform="translate(1148.5 1042.6) rotate(-90)" font-size="12" fill="#404040" stroke="#404040" stroke-width="0.35">43,</text>
<text transform="translate(1195.06 1042.6) rotate(-90)" font-size="12" fill="#404040" stroke="#404040" stroke-width="0.35">26,684</text>
<text transform="translate(1241.62 1042.6) rotate(-90)" font-size="12" fill="#404040" stroke="#404040" stroke-width="0.35">20,</text>
<text transform="translate(1288.18 1042.6) rotate(-90)" font-size="12" fill="#404040" stroke="#404040" stroke-width="0.35">18,</text>
<text transform="translate(1334.74 1042.6) rotate(-90)" font-size="12" fill="#404040" stroke="#404040" stroke-width="0.35">13,791</text>
<rect x="897" y="961" width="28.6" height="18.6" fill="#deebf7"/>
<text x="911.3" y="974.4" font-size="12" fill="#404040" text-anchor="middle" stroke="#404040" stroke-width="0.35">32%</text>
<rect x="944" y="957" width="28.6" height="18.6" fill="#deebf7"/>
<text x="958.3" y="970.4" font-size="12" fill="#404040" text-anchor="middle" stroke="#404040" stroke-width="0.35">34%</text>
<rect x="993" y="1000.4" width="22.6" height="18" fill="#deebf7"/>
<text x="1004.3" y="1013.5" font-size="12" fill="#404040" text-anchor="middle" stroke="#404040" stroke-width="0.35">6%</text>
<rect x="1037" y="988" width="28.6" height="18.6" fill="#deebf7"/>
<text x="1051.3" y="1001.4" font-size="12" fill="#404040" text-anchor="middle" stroke="#404040" stroke-width="0.35">14%</text>
<rect x="1083" y="992" width="28.6" height="17.6" fill="#deebf7"/>
<text x="1097.3" y="1004.9" font-size="12" fill="#404040" text-anchor="middle" stroke="#404040" stroke-width="0.35">12%</text>
<rect x="1133" y="1010" width="22.6" height="17.6" fill="#deebf7"/>
<text x="1144.3" y="1022.9" font-size="12" fill="#404040" text-anchor="middle" stroke="#404040" stroke-width="0.35">0%</text>
<rect x="1176" y="919.4" width="28.6" height="18.6" fill="#deebf7"/>
<text x="1190.3" y="932.8" font-size="12" fill="#404040" text-anchor="middle" stroke="#404040" stroke-width="0.35">59%</text>
<rect x="1226" y="1010" width="22.6" height="17.6" fill="#deebf7"/>
<text x="1237.3" y="1022.9" font-size="12" fill="#404040" text-anchor="middle" stroke="#404040" stroke-width="0.35">0%</text>
<rect x="1272" y="1010" width="22.6" height="17.6" fill="#deebf7"/>
<text x="1283.3" y="1022.9" font-size="12" fill="#404040" text-anchor="middle" stroke="#404040" stroke-width="0.35">0%</text>
<rect x="1316" y="988" width="28.6" height="18.6" fill="#deebf7"/>
<text x="1330.3" y="1001.4" font-size="12" fill="#404040" text-anchor="middle" stroke="#404040" stroke-width="0.35">14%</text>
<text x="1364" y="932" font-size="10.8" fill="#595959" stroke="#595959" stroke-width="0.35">70%</text>
<text x="1364" y="947.25" font-size="10.8" fill="#595959" stroke="#595959" stroke-width="0.35">60%</text>
<text x="1364" y="962.5" font-size="10.8" fill="#595959" stroke="#595959" stroke-width="0.35">50%</text>
<text x="1364" y="977.75" font-size="10.8" fill="#595959" stroke="#595959" stroke-width="0.35">40%</text>
<text x="1364" y="993" font-size="10.8" fill="#595959" stroke="#595959" stroke-width="0.35">30%</text>
<text x="1364" y="1008.25" font-size="10.8" fill="#595959" stroke="#595959" stroke-width="0.35">20%</text>
<text x="1364" y="1023.5" font-size="10.8" fill="#595959" stroke="#595959" stroke-width="0.35">10%</text>
<text x="1364" y="1038.75" font-size="10.8" fill="#595959" stroke="#595959" stroke-width="0.35">0%</text>
<text x="1364" y="1054" font-size="10.8" fill="#595959" stroke="#595959" stroke-width="0.35">-10%</text>
<text transform="translate(868.9 1107) rotate(-45)" font-size="8.9" fill="#595959" text-anchor="middle" stroke="#595959" stroke-width="0.35">SANTIAGO DE SURCO</text>
<text transform="translate(916.9 1105.8) rotate(-45)" font-size="8.9" fill="#595959" text-anchor="middle" stroke="#595959" stroke-width="0.35">CHORRILLOS</text>
<text transform="translate(963.75 1104.9) rotate(-45)" font-size="8.9" fill="#595959" text-anchor="middle" stroke="#595959" stroke-width="0.35">VILLA EL SALVADOR</text>
<text transform="translate(1008.75 1107.25) rotate(-45)" font-size="8.9" fill="#595959" text-anchor="middle" stroke="#595959" stroke-width="0.35">CAJAMARCA</text>
<text transform="translate(1058.25 1104) rotate(-45)" font-size="8.9" fill="#595959" text-anchor="middle" stroke="#595959" stroke-width="0.35">ATE</text>
<text transform="translate(1102.75 1105.75) rotate(-45)" font-size="8.9" fill="#595959" text-anchor="middle" stroke="#595959" stroke-width="0.35">MIRAFLORES</text>
<text transform="translate(1150.4 1104.6) rotate(-45)" font-size="8.9" fill="#595959" text-anchor="middle" stroke="#595959" stroke-width="0.35">LIMA</text>
<text transform="translate(1197.1 1103.8) rotate(-45)" font-size="8.9" fill="#595959" text-anchor="middle" stroke="#595959" stroke-width="0.35">PISCO</text>
<text transform="translate(1240.8 1107) rotate(-45)" font-size="8.9" fill="#595959" text-anchor="middle" stroke="#595959" stroke-width="0.35">BARRANCA</text>
<text transform="translate(1288 1106.4) rotate(-45)" font-size="8.9" fill="#595959" text-anchor="middle" stroke="#595959" stroke-width="0.35">VILLA MARIA DEL TRIUNFO</text>
<rect x="1003" y="1123.6" width="26" height="7.4" fill="#91a3d5"/>
<text x="1037" y="1131" font-size="12" fill="#000" font-weight="bold" stroke="#000" stroke-width="0.12">Total deuda S/</text>
<line x1="1126" y1="1127.6" x2="1154.4" y2="1127.6" stroke="#3a65b1" stroke-width="3"/>
<circle cx="1140.2" cy="1127.6" r="4" fill="#3a65b1"/>
<text x="1161" y="1131" font-size="12" fill="#000" font-weight="bold" stroke="#000" stroke-width="0.12">% D. Vencida</text>
<text x="182.9" y="1363.4" font-size="10.8" fill="#595959" text-anchor="end" stroke="#595959" stroke-width="0.35">0</text>
<text x="182.9" y="1341.07" font-size="10.8" fill="#595959" text-anchor="end" stroke="#595959" stroke-width="0.35">100,000</text>
<text x="182.9" y="1318.74" font-size="10.8" fill="#595959" text-anchor="end" stroke="#595959" stroke-width="0.35">200,000</text>
<text x="182.9" y="1296.41" font-size="10.8" fill="#595959" text-anchor="end" stroke="#595959" stroke-width="0.35">300,000</text>
<text x="182.9" y="1274.08" font-size="10.8" fill="#595959" text-anchor="end" stroke="#595959" stroke-width="0.35">400,000</text>
<text x="182.9" y="1251.75" font-size="10.8" fill="#595959" text-anchor="end" stroke="#595959" stroke-width="0.35">500,000</text>
<text x="182.9" y="1229.42" font-size="10.8" fill="#595959" text-anchor="end" stroke="#595959" stroke-width="0.35">600,000</text>
<line x1="191.5" y1="1360" x2="745.7" y2="1360" stroke="#d9d9d9" stroke-width="1"/>
<rect x="216" y="1249.91" width="44" height="110.09" fill="#fdcf87"/>
<rect x="308.3" y="1297.13" width="44" height="62.87" fill="#fdcf87"/>
<rect x="400.6" y="1316.84" width="44" height="43.16" fill="#fdcf87"/>
<rect x="492.9" y="1355.8" width="44" height="4.2" fill="#fdcf87"/>
<rect x="585.2" y="1359.2" width="44" height="0.8" fill="#fdcf87"/>
<rect x="677.5" y="1359.9" width="44" height="0.1" fill="#fdcf87"/>
<polyline points="238,1315.41 330.3,1331.65 422.6,1306.82 514.9,1341.2 607.2,1245.7 699.5,1245.7" fill="none" stroke="#dfa700" stroke-width="3" stroke-linejoin="round" stroke-linecap="round"/>
<rect x="229.8" y="1310" width="16.1" height="46.7" fill="#fff"/>
<rect x="322.3" y="1325.5" width="15.6" height="31.2" fill="#fff"/>
<rect x="414" y="1310" width="17.3" height="46.7" fill="#fff"/>
<rect x="508.5" y="1332" width="14" height="24.7" fill="#fff"/>
<text transform="translate(242.2 1352.5) rotate(-90)" font-size="12" fill="#262626" stroke="#262626" stroke-width="0.35">493,026</text>
<text transform="translate(334.5 1352.5) rotate(-90)" font-size="12" fill="#262626" stroke="#262626" stroke-width="0.35">281,5</text>
<text transform="translate(426.8 1352.5) rotate(-90)" font-size="12" fill="#262626" stroke="#262626" stroke-width="0.35">193,290</text>
<text transform="translate(519.1 1352.5) rotate(-90)" font-size="12" fill="#262626" stroke="#262626" stroke-width="0.35">18,8</text>
<text transform="translate(611.4 1352.5) rotate(-90)" font-size="12" fill="#262626" stroke="#262626" stroke-width="0.35">3,562</text>
<text transform="translate(703.7 1352.5) rotate(-90)" font-size="12" fill="#262626" stroke="#262626" stroke-width="0.35">453</text>
<rect x="223.2" y="1290" width="28.8" height="18.7" fill="#ffe699"/>
<text x="237.6" y="1303.45" font-size="12" fill="#404040" text-anchor="middle" stroke="#404040" stroke-width="0.35">27%</text>
<rect x="315.6" y="1306" width="29.5" height="18.8" fill="#ffe699"/>
<text x="330.35" y="1319.5" font-size="12" fill="#404040" text-anchor="middle" stroke="#404040" stroke-width="0.35">10%</text>
<rect x="408" y="1281" width="28.8" height="18.8" fill="#ffe699"/>
<text x="422.4" y="1294.5" font-size="12" fill="#404040" text-anchor="middle" stroke="#404040" stroke-width="0.35">36%</text>
<rect x="503.2" y="1316" width="22.8" height="18.4" fill="#ffe699"/>
<text x="514.6" y="1329.3" font-size="12" fill="#404040" text-anchor="middle" stroke="#404040" stroke-width="0.35">0%</text>
<rect x="590" y="1220" width="34.9" height="18" fill="#ffe699"/>
<text x="607.45" y="1233.1" font-size="12" fill="#404040" text-anchor="middle" stroke="#404040" stroke-width="0.35">100%</text>
<rect x="682" y="1220" width="34.8" height="18" fill="#ffe699"/>
<text x="699.4" y="1233.1" font-size="12" fill="#404040" text-anchor="middle" stroke="#404040" stroke-width="0.35">100%</text>
<text x="756.4" y="1229.8" font-size="10.8" fill="#595959" stroke="#595959" stroke-width="0.35">120%</text>
<text x="756.4" y="1248.93" font-size="10.8" fill="#595959" stroke="#595959" stroke-width="0.35">100%</text>
<text x="756.4" y="1268.06" font-size="10.8" fill="#595959" stroke="#595959" stroke-width="0.35">80%</text>
<text x="756.4" y="1287.19" font-size="10.8" fill="#595959" stroke="#595959" stroke-width="0.35">60%</text>
<text x="756.4" y="1306.32" font-size="10.8" fill="#595959" stroke="#595959" stroke-width="0.35">40%</text>
<text x="756.4" y="1325.45" font-size="10.8" fill="#595959" stroke="#595959" stroke-width="0.35">20%</text>
<text x="756.4" y="1344.58" font-size="10.8" fill="#595959" stroke="#595959" stroke-width="0.35">0%</text>
<text x="756.4" y="1363.71" font-size="10.8" fill="#595959" stroke="#595959" stroke-width="0.35">-20%</text>
<text x="238" y="1376.3" font-size="8.5" fill="#595959" text-anchor="middle" font-weight="bold" stroke="#595959" stroke-width="0.1" letter-spacing="0.55">INDUSTRIAS</text>
<text x="330.3" y="1376.3" font-size="8.5" fill="#595959" text-anchor="middle" font-weight="bold" stroke="#595959" stroke-width="0.1" letter-spacing="0.55">MAYORISTAS</text>
<text x="422.6" y="1376.3" font-size="8.5" fill="#595959" text-anchor="middle" font-weight="bold" stroke="#595959" stroke-width="0.1" letter-spacing="0.55">PANADERIAS</text>
<text x="514.9" y="1376.3" font-size="8.5" fill="#595959" text-anchor="middle" font-weight="bold" stroke="#595959" stroke-width="0.1" letter-spacing="0.55">DISTRIBUIDORES</text>
<text x="607.2" y="1376.3" font-size="8.5" fill="#595959" text-anchor="middle" font-weight="bold" stroke="#595959" stroke-width="0.1" letter-spacing="0.55">EXPORTACION</text>
<text x="699.5" y="1376.3" font-size="8.5" fill="#595959" text-anchor="middle" font-weight="bold" stroke="#595959" stroke-width="0.1" letter-spacing="0.55">(en blanco)</text>
<rect x="370.8" y="1393.7" width="26.4" height="5.5" fill="#fdcf87"/>
<text x="404.4" y="1399" font-size="9" fill="#404040" font-weight="bold" stroke="#404040" stroke-width="0.12" letter-spacing="0.3">Total deuda S/</text>
<line x1="475.6" y1="1396.3" x2="502.7" y2="1396.3" stroke="#dfa700" stroke-width="3"/>
<text x="509.2" y="1399" font-size="9" fill="#404040" font-weight="bold" stroke="#404040" stroke-width="0.12" letter-spacing="0.3">% D. Vencida</text>
<text x="873.9" y="1362.4" font-size="9" fill="#595959" text-anchor="end" stroke="#595959" stroke-width="0.35" letter-spacing="0.15">0</text>
<text x="873.9" y="1339.6" font-size="9" fill="#595959" text-anchor="end" stroke="#595959" stroke-width="0.35" letter-spacing="0.15">50,000</text>
<text x="873.9" y="1316.8" font-size="9" fill="#595959" text-anchor="end" stroke="#595959" stroke-width="0.35" letter-spacing="0.15">100,000</text>
<text x="873.9" y="1294" font-size="9" fill="#595959" text-anchor="end" stroke="#595959" stroke-width="0.35" letter-spacing="0.15">150,000</text>
<text x="873.9" y="1271.2" font-size="9" fill="#595959" text-anchor="end" stroke="#595959" stroke-width="0.35" letter-spacing="0.15">200,000</text>
<text x="873.9" y="1248.4" font-size="9" fill="#595959" text-anchor="end" stroke="#595959" stroke-width="0.35" letter-spacing="0.15">250,000</text>
<text x="873.9" y="1225.6" font-size="9" fill="#595959" text-anchor="end" stroke="#595959" stroke-width="0.35" letter-spacing="0.15">300,000</text>
<line x1="882" y1="1359.5" x2="1366" y2="1359.5" stroke="#d9d9d9" stroke-width="1"/>
<rect x="895" y="1233.55" width="22" height="125.95" fill="#f0a98a"/>
<rect x="943.4" y="1276.55" width="22" height="82.95" fill="#f0a98a"/>
<rect x="991.8" y="1288.68" width="22" height="70.82" fill="#f0a98a"/>
<rect x="1040.2" y="1302.9" width="22" height="56.6" fill="#f0a98a"/>
<rect x="1088.6" y="1314.01" width="22" height="45.49" fill="#f0a98a"/>
<rect x="1137" y="1319.41" width="22" height="40.09" fill="#f0a98a"/>
<rect x="1185.4" y="1350.65" width="22" height="8.85" fill="#f0a98a"/>
<rect x="1233.8" y="1350.69" width="22" height="8.81" fill="#f0a98a"/>
<rect x="1282.2" y="1350.93" width="22" height="8.57" fill="#f0a98a"/>
<rect x="1330.6" y="1357.88" width="22" height="1.62" fill="#f0a98a"/>
<polyline points="906,1310.07 954.4,1318.87 1002.8,1333.55 1051.2,1326.7 1099.6,1315.94 1148,1293.43 1196.4,1340.4 1244.8,1318.87 1293.2,1340.4 1341.6,1242.55" fill="none" stroke="#d26a25" stroke-width="3" stroke-linejoin="round" stroke-linecap="round"/>
<circle cx="906" cy="1310.07" r="3.6" fill="#d26a25"/>
<circle cx="954.4" cy="1318.87" r="3.6" fill="#d26a25"/>
<circle cx="1002.8" cy="1333.55" r="3.6" fill="#d26a25"/>
<circle cx="1051.2" cy="1326.7" r="3.6" fill="#d26a25"/>
<circle cx="1099.6" cy="1315.94" r="3.6" fill="#d26a25"/>
<circle cx="1148" cy="1293.43" r="3.6" fill="#d26a25"/>
<circle cx="1196.4" cy="1340.4" r="3.6" fill="#d26a25"/>
<circle cx="1244.8" cy="1318.87" r="3.6" fill="#d26a25"/>
<circle cx="1293.2" cy="1340.4" r="3.6" fill="#d26a25"/>
<circle cx="1341.6" cy="1242.55" r="3.6" fill="#d26a25"/>
<text transform="translate(910.2 1353) rotate(-90)" font-size="12" fill="#1f3864" stroke="#1f3864" stroke-width="0.2">276,211</text>
<text transform="translate(958.6 1353) rotate(-90)" font-size="12" fill="#1f3864" stroke="#1f3864" stroke-width="0.2">181,903</text>
<text transform="translate(1007 1353) rotate(-90)" font-size="12" fill="#1f3864" stroke="#1f3864" stroke-width="0.2">155,3</text>
<text transform="translate(1055.4 1353) rotate(-90)" font-size="12" fill="#1f3864" stroke="#1f3864" stroke-width="0.2">124,12</text>
<text transform="translate(1103.8 1353) rotate(-90)" font-size="12" fill="#1f3864" stroke="#1f3864" stroke-width="0.2">99,750</text>
<text transform="translate(1152.2 1353) rotate(-90)" font-size="12" fill="#1f3864" stroke="#1f3864" stroke-width="0.2">87,925</text>
<text transform="translate(1200.6 1353) rotate(-90)" font-size="12" fill="#1f3864" stroke="#1f3864" stroke-width="0.2">19,4</text>
<text transform="translate(1249 1353) rotate(-90)" font-size="12" fill="#1f3864" stroke="#1f3864" stroke-width="0.2">19,319</text>
<text transform="translate(1297.4 1353) rotate(-90)" font-size="12" fill="#1f3864" stroke="#1f3864" stroke-width="0.2">18,8</text>
<text transform="translate(1345.8 1353) rotate(-90)" font-size="12" fill="#1f3864" stroke="#1f3864" stroke-width="0.2">3,562</text>
<rect x="892" y="1284" width="29" height="18" fill="#e2efda"/>
<text x="906.5" y="1297.1" font-size="12" fill="#404040" text-anchor="middle" stroke="#404040" stroke-width="0.35">31%</text>
<rect x="940" y="1293" width="29" height="19" fill="#e2efda"/>
<text x="954.5" y="1306.6" font-size="12" fill="#404040" text-anchor="middle" stroke="#404040" stroke-width="0.35">22%</text>
<rect x="992" y="1308" width="22" height="18" fill="#e2efda"/>
<text x="1003" y="1321.1" font-size="12" fill="#404040" text-anchor="middle" stroke="#404040" stroke-width="0.35">7%</text>
<rect x="1037" y="1301" width="28.6" height="18" fill="#e2efda"/>
<text x="1051.3" y="1314.1" font-size="12" fill="#404040" text-anchor="middle" stroke="#404040" stroke-width="0.35">14%</text>
<rect x="1085" y="1290" width="29" height="18" fill="#e2efda"/>
<text x="1099.5" y="1303.1" font-size="12" fill="#404040" text-anchor="middle" stroke="#404040" stroke-width="0.35">25%</text>
<rect x="1134" y="1268" width="29" height="18" fill="#e2efda"/>
<text x="1148.5" y="1281.1" font-size="12" fill="#404040" text-anchor="middle" stroke="#404040" stroke-width="0.35">48%</text>
<rect x="1185" y="1314" width="23" height="18.4" fill="#e2efda"/>
<text x="1196.5" y="1327.3" font-size="12" fill="#404040" text-anchor="middle" stroke="#404040" stroke-width="0.35">0%</text>
<rect x="1230" y="1293" width="29" height="19" fill="#e2efda"/>
<text x="1244.5" y="1306.6" font-size="12" fill="#404040" text-anchor="middle" stroke="#404040" stroke-width="0.35">22%</text>
<rect x="1282" y="1314" width="23" height="18.4" fill="#e2efda"/>
<text x="1293.5" y="1327.3" font-size="12" fill="#404040" text-anchor="middle" stroke="#404040" stroke-width="0.35">0%</text>
<rect x="1324" y="1217" width="35" height="19" fill="#e2efda"/>
<text x="1341.5" y="1230.6" font-size="12" fill="#404040" text-anchor="middle" stroke="#404040" stroke-width="0.35">100%</text>
<text x="1374" y="1225.9" font-size="9" fill="#595959" stroke="#595959" stroke-width="0.35" letter-spacing="0.25">120%</text>
<text x="1374" y="1245.47" font-size="9" fill="#595959" stroke="#595959" stroke-width="0.35" letter-spacing="0.25">100%</text>
<text x="1374" y="1265.04" font-size="9" fill="#595959" stroke="#595959" stroke-width="0.35" letter-spacing="0.25">80%</text>
<text x="1374" y="1284.61" font-size="9" fill="#595959" stroke="#595959" stroke-width="0.35" letter-spacing="0.25">60%</text>
<text x="1374" y="1304.18" font-size="9" fill="#595959" stroke="#595959" stroke-width="0.35" letter-spacing="0.25">40%</text>
<text x="1374" y="1323.75" font-size="9" fill="#595959" stroke="#595959" stroke-width="0.35" letter-spacing="0.25">20%</text>
<text x="1374" y="1343.32" font-size="9" fill="#595959" stroke="#595959" stroke-width="0.35" letter-spacing="0.25">0%</text>
<text x="1374" y="1362.89" font-size="9" fill="#595959" stroke="#595959" stroke-width="0.35" letter-spacing="0.25">-20%</text>
<text x="906" y="1374.8" font-size="8.5" fill="#595959" text-anchor="middle" font-weight="bold" stroke="#595959" stroke-width="0.1" letter-spacing="0.55">ZOILA</text>
<text x="954.4" y="1374.8" font-size="8.5" fill="#595959" text-anchor="middle" font-weight="bold" stroke="#595959" stroke-width="0.1" letter-spacing="0.55">RONALD</text>
<text x="1002.8" y="1374.8" font-size="8.5" fill="#595959" text-anchor="middle" font-weight="bold" stroke="#595959" stroke-width="0.1" letter-spacing="0.55">JAVIER</text>
<text x="1051.2" y="1374.8" font-size="8.5" fill="#595959" text-anchor="middle" font-weight="bold" stroke="#595959" stroke-width="0.1" letter-spacing="0.55">YEREK</text>
<text x="1099.6" y="1374.8" font-size="8.5" fill="#595959" text-anchor="middle" font-weight="bold" stroke="#595959" stroke-width="0.1" letter-spacing="0.55">JOSE</text>
<text x="1148" y="1374.8" font-size="8.5" fill="#595959" text-anchor="middle" font-weight="bold" stroke="#595959" stroke-width="0.1" letter-spacing="0.55">FRANCISCO</text>
<text x="1196.4" y="1374.8" font-size="8.5" fill="#595959" text-anchor="middle" font-weight="bold" stroke="#595959" stroke-width="0.1" letter-spacing="0.55">LUIS</text>
<text x="1244.8" y="1374.8" font-size="8.5" fill="#595959" text-anchor="middle" font-weight="bold" stroke="#595959" stroke-width="0.1" letter-spacing="0.55">EDGAR</text>
<text x="1293.2" y="1374.8" font-size="8.5" fill="#595959" text-anchor="middle" font-weight="bold" stroke="#595959" stroke-width="0.1" letter-spacing="0.55">JESÚS</text>
<text x="1341.6" y="1374.8" font-size="8.5" fill="#595959" text-anchor="middle" font-weight="bold" stroke="#595959" stroke-width="0.1" letter-spacing="0.55">MALENA</text>
<rect x="1027" y="1393" width="26" height="5" fill="#f0a98a"/>
<text x="1060" y="1398.2" font-size="9" fill="#404040" font-weight="bold" stroke="#404040" stroke-width="0.12" letter-spacing="0.3">Total deuda S/</text>
<line x1="1131" y1="1395.4" x2="1158.4" y2="1395.4" stroke="#d26a25" stroke-width="3"/>
<circle cx="1144.7" cy="1395.4" r="3" fill="#d26a25"/>
<text x="1165" y="1398.2" font-size="9" fill="#404040" font-weight="bold" stroke="#404040" stroke-width="0.12" letter-spacing="0.3">% D. Vencida</text>
</svg>
</div></body></html>
